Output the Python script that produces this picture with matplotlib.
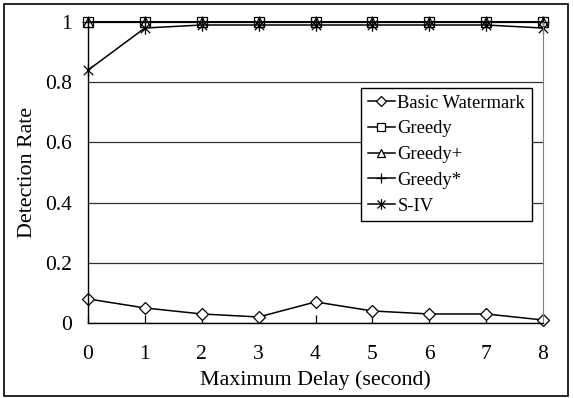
import numpy as np
import matplotlib.pyplot as plt
import matplotlib as mpl
from matplotlib.path import Path
from matplotlib.patches import Rectangle

mpl.rcParams['font.family'] = 'Liberation Serif'

# Data
delay = [0, 1, 2, 3, 4, 5, 6, 7, 8]
basic = [0.08, 0.05, 0.03, 0.02, 0.07, 0.04, 0.03, 0.03, 0.01]
greedy = [1, 1, 1, 1, 1, 1, 1, 1, 1]
greedy_plus = [1, 1, 1, 1, 1, 1, 1, 1, 1]
greedy_star = [1, 1, 1, 1, 1, 1, 1, 1, 1]
s_iv = [0.84, 0.98, 0.99, 0.99, 0.99, 0.99, 0.99, 0.99, 0.98]

# asterisk marker: vertical bar plus an x
STAR = Path([(0, -1), (0, 1), (-0.75, -0.75), (0.75, 0.75), (-0.75, 0.75), (0.75, -0.75)],
            [Path.MOVETO, Path.LINETO, Path.MOVETO, Path.LINETO, Path.MOVETO, Path.LINETO])

fig = plt.figure(figsize=(5.73, 3.98), dpi=100)
ax = fig.add_axes([88/573, 1 - 323/398, 455/573, 301/398])

# outer frame
fig.patches.append(Rectangle((4/573, 2/398), 564/573, 392/398, transform=fig.transFigure,
                             fill=False, edgecolor='black', lw=1.2))

ax.yaxis.grid(True, color='#303030', lw=0.9)
ax.set_axisbelow(True)

kw = dict(color='black', lw=1.1, markerfacecolor='white', markeredgecolor='black',
          markeredgewidth=0.9, clip_on=False)
ax.plot(delay, basic, marker='D', markersize=6, label='Basic Watermark', **kw)
ax.plot(delay, greedy, marker='s', markersize=6.5, label='Greedy', **kw)
ax.plot(delay, greedy_plus, marker='^', markersize=6.5, label='Greedy+', **kw)
ax.plot(delay, greedy_star, marker='+', markersize=9, label='Greedy*', **kw)
ax.plot(delay, s_iv, marker=STAR, markersize=9, label='S-IV', **kw)

ax.set_xlim(0, 8)
ax.set_ylim(0, 1)
ax.set_xticks(delay)
ax.set_yticks([0, 0.2, 0.4, 0.6, 0.8, 1])
ax.set_yticklabels(['0', '0.2', '0.4', '0.6', '0.8', '1'])
ax.tick_params(axis='x', direction='in', length=6, width=0.9, pad=16, labelsize=15.5)
ax.tick_params(axis='y', length=0, pad=11.5, labelsize=15.5)

ax.spines['top'].set_visible(False)
ax.spines['right'].set_color('#808080')
ax.spines['left'].set_linewidth(1.0)
ax.spines['bottom'].set_linewidth(1.0)

ax.set_xlabel('Maximum Delay (second)', fontsize=15.8, labelpad=4)
ax.set_ylabel('Detection Rate', fontsize=15.8, labelpad=6)

leg = ax.legend(loc='upper left', bbox_to_anchor=(0.600, 0.781), borderaxespad=0,
                fancybox=False, edgecolor='black', framealpha=1, fontsize=13.4,
                handlelength=1.45, handletextpad=0.15, labelspacing=0.47, borderpad=0.36,
                markerscale=0.85)
leg.get_frame().set_linewidth(1.0)

fig.savefig('out.png', dpi=100)
